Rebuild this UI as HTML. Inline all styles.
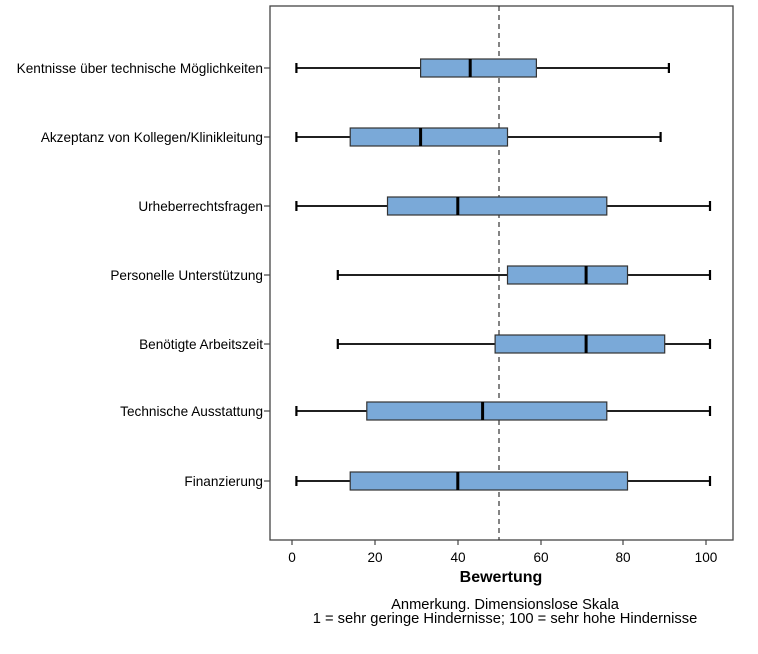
<!DOCTYPE html>
<html><head><meta charset="utf-8"><style>body{margin:0;background:#fff}svg{display:block}</style></head><body>
<svg width="758" height="654" xmlns="http://www.w3.org/2000/svg" font-family="Liberation Sans, sans-serif">
<rect width="758" height="654" fill="#fff"/>
<rect x="270" y="6" width="463" height="534" fill="none" stroke="#444" stroke-width="1.3"/>
<line x1="499" y1="6" x2="499" y2="540" stroke="#333" stroke-dasharray="5,4" stroke-width="1.2"/>
<g stroke="#000" stroke-width="1.8">
<line x1="296.4" y1="68" x2="668.9" y2="68"/><line x1="296.4" y1="63" x2="296.4" y2="73" stroke-width="2.2"/><line x1="668.9" y1="63" x2="668.9" y2="73" stroke-width="2.2"/>
<rect x="420.6" y="59" width="115.8" height="18" fill="#7aa9d8" stroke="#333" stroke-width="1.2"/><line x1="470.2" y1="59" x2="470.2" y2="77" stroke-width="3"/>
<line x1="296.4" y1="137" x2="660.6" y2="137"/><line x1="296.4" y1="132" x2="296.4" y2="142" stroke-width="2.2"/><line x1="660.6" y1="132" x2="660.6" y2="142" stroke-width="2.2"/>
<rect x="350.2" y="128" width="157.3" height="18" fill="#7aa9d8" stroke="#333" stroke-width="1.2"/><line x1="420.6" y1="128" x2="420.6" y2="146" stroke-width="3"/>
<line x1="296.4" y1="206" x2="710" y2="206"/><line x1="296.4" y1="201" x2="296.4" y2="211" stroke-width="2.2"/><line x1="710" y1="201" x2="710" y2="211" stroke-width="2.2"/>
<rect x="387.5" y="197" width="219.3" height="18" fill="#7aa9d8" stroke="#333" stroke-width="1.2"/><line x1="457.8" y1="197" x2="457.8" y2="215" stroke-width="3"/>
<line x1="337.8" y1="275" x2="710" y2="275"/><line x1="337.8" y1="270" x2="337.8" y2="280" stroke-width="2.2"/><line x1="710" y1="270" x2="710" y2="280" stroke-width="2.2"/>
<rect x="507.5" y="266" width="120" height="18" fill="#7aa9d8" stroke="#333" stroke-width="1.2"/><line x1="586.1" y1="266" x2="586.1" y2="284" stroke-width="3"/>
<line x1="337.8" y1="344" x2="710" y2="344"/><line x1="337.8" y1="339" x2="337.8" y2="349" stroke-width="2.2"/><line x1="710" y1="339" x2="710" y2="349" stroke-width="2.2"/>
<rect x="495.1" y="335" width="169.6" height="18" fill="#7aa9d8" stroke="#333" stroke-width="1.2"/><line x1="586.1" y1="335" x2="586.1" y2="353" stroke-width="3"/>
<line x1="296.4" y1="411" x2="710" y2="411"/><line x1="296.4" y1="406" x2="296.4" y2="416" stroke-width="2.2"/><line x1="710" y1="406" x2="710" y2="416" stroke-width="2.2"/>
<rect x="366.8" y="402" width="240" height="18" fill="#7aa9d8" stroke="#333" stroke-width="1.2"/><line x1="482.6" y1="402" x2="482.6" y2="420" stroke-width="3"/>
<line x1="296.4" y1="481" x2="710" y2="481"/><line x1="296.4" y1="476" x2="296.4" y2="486" stroke-width="2.2"/><line x1="710" y1="476" x2="710" y2="486" stroke-width="2.2"/>
<rect x="350.2" y="472" width="277.3" height="18" fill="#7aa9d8" stroke="#333" stroke-width="1.2"/><line x1="457.8" y1="472" x2="457.8" y2="490" stroke-width="3"/>
</g>
<g stroke="#444" stroke-width="1.2">
<line x1="264" y1="68" x2="270" y2="68"/><line x1="264" y1="137" x2="270" y2="137"/><line x1="264" y1="206" x2="270" y2="206"/><line x1="264" y1="275" x2="270" y2="275"/><line x1="264" y1="344" x2="270" y2="344"/><line x1="264" y1="411" x2="270" y2="411"/><line x1="264" y1="481" x2="270" y2="481"/>
<line x1="292" y1="540" x2="292" y2="545"/><line x1="375" y1="540" x2="375" y2="545"/><line x1="458" y1="540" x2="458" y2="545"/><line x1="541" y1="540" x2="541" y2="545"/><line x1="623" y1="540" x2="623" y2="545"/><line x1="706" y1="540" x2="706" y2="545"/>
</g>
<g font-size="13.6" text-anchor="end" fill="#000">
<text x="263" y="73">Kentnisse über technische Möglichkeiten</text>
<text x="263" y="142">Akzeptanz von Kollegen/Klinikleitung</text>
<text x="263" y="211">Urheberrechtsfragen</text>
<text x="263" y="280">Personelle Unterstützung</text>
<text x="263" y="349">Benötigte Arbeitszeit</text>
<text x="263" y="416">Technische Ausstattung</text>
<text x="263" y="486">Finanzierung</text>
</g>
<g font-size="13.6" text-anchor="middle" fill="#000">
<text x="292" y="562">0</text><text x="375" y="562">20</text><text x="458" y="562">40</text><text x="541" y="562">60</text><text x="623" y="562">80</text><text x="706" y="562">100</text>
</g>
<text x="501" y="582" font-size="16" font-weight="bold" text-anchor="middle">Bewertung</text>
<text x="505" y="609" font-size="14.7" text-anchor="middle">Anmerkung. Dimensionslose Skala</text>
<text x="505" y="623" font-size="14.7" text-anchor="middle">1 = sehr geringe Hindernisse; 100 = sehr hohe Hindernisse</text>
</svg></body></html>
